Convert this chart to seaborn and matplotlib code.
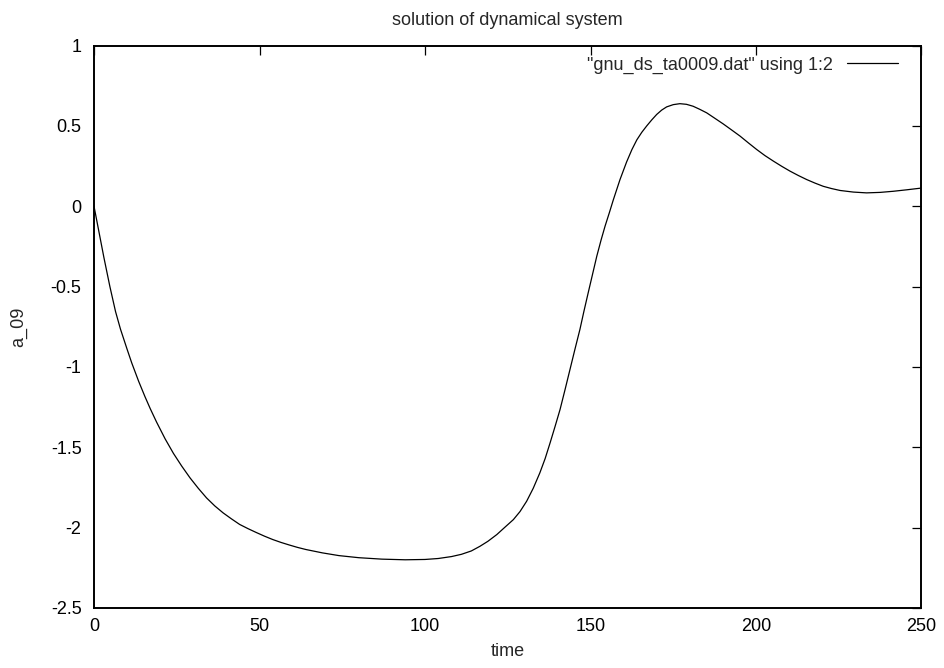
import matplotlib
matplotlib.use("Agg")
import matplotlib.pyplot as plt
import seaborn as sns
import pandas as pd

time = [0, 1.5, 3, 4.8, 6.5, 8, 10, 11.4, 13.5, 15.4, 17, 18.9, 21.5, 24,
        26.5, 29, 31.5, 34, 36.5, 39, 41.5, 44, 46.5, 49, 51.5, 54, 56.5, 59,
        61.5, 64, 69, 74, 80, 87, 94, 100, 104, 108, 111, 114, 116.6, 119,
        121.7, 124, 126.7, 128.7, 130.7, 132.7, 134.7, 136.3, 137.8, 139.3,
        140.8, 142.3, 143.8, 145.3, 146.8, 148, 149.3, 150.6, 151.9, 153.2,
        154.4, 155.7, 156.9, 158.9, 160.9, 162.5, 164, 165.5, 167, 168.5, 170,
        171.5, 173, 175, 177, 179, 181, 183, 185.1, 187.5, 190.1, 192.6,
        195.2, 197.7, 200.2, 202.7, 205.3, 207.8, 210.3, 212.8, 215.3, 217.8,
        220.3, 222.8, 225.4, 229.4, 233.4, 237.5, 241.5, 245.5, 249.6, 250]
a_09 = [0.0, -0.16, -0.32, -0.5, -0.655, -0.765, -0.89, -0.975, -1.09,
        -1.185, -1.26, -1.343, -1.448, -1.538, -1.617, -1.69, -1.755, -1.815,
        -1.865, -1.908, -1.945, -1.98, -2.006, -2.03, -2.053, -2.074, -2.092,
        -2.108, -2.123, -2.136, -2.157, -2.174, -2.187, -2.196, -2.2, -2.198,
        -2.192, -2.18, -2.166, -2.145, -2.116, -2.085, -2.043, -2.0, -1.95,
        -1.9, -1.836, -1.755, -1.659, -1.57, -1.472, -1.37, -1.265, -1.142,
        -1.016, -0.89, -0.767, -0.655, -0.539, -0.425, -0.311, -0.21, -0.124,
        -0.04, 0.04, 0.165, 0.275, 0.352, 0.413, 0.46, 0.5, 0.537, 0.571,
        0.598, 0.618, 0.632, 0.638, 0.634, 0.622, 0.603, 0.581, 0.548, 0.512,
        0.475, 0.436, 0.394, 0.353, 0.315, 0.28, 0.248, 0.218, 0.191, 0.166,
        0.144, 0.124, 0.11, 0.098, 0.088, 0.083, 0.086, 0.093, 0.102, 0.112,
        0.113]
series_label = '"gnu_ds_ta0009.dat" using 1:2'
xticks = [0, 50, 100, 150, 200, 250]
yticks = [-2.5, -2, -1.5, -1, -0.5, 0, 0.5, 1]
ytick_labels = ["-2.5", "-2", "-1.5", "-1", "-0.5", "0", "0.5", "1"]

sns.set_style("white")
plt.rcParams['font.family'] = ['Liberation Sans', 'DejaVu Sans']

df = pd.DataFrame({"time": time, "a_09": a_09})

fig = plt.figure(figsize=(9.44, 6.68), dpi=100)
ax = fig.add_axes([94 / 944, 1 - 608 / 668, (921.5 - 94) / 944, (608 - 45.5) / 668])

sns.lineplot(data=df, x="time", y="a_09", ax=ax, color="black", lw=0.9,
             sort=False, estimator=None, label=series_label)

ax.set_xlim(0, 250)
ax.set_ylim(-2.5, 1)
ax.set_xticks(xticks)
ax.set_xticklabels([str(v) for v in xticks])
ax.set_yticks(yticks)
ax.set_yticklabels(ytick_labels)

for s in ax.spines.values():
    s.set_visible(True)
    s.set_color("black")
    s.set_linewidth(1.4)

ax.tick_params(axis="both", direction="in", length=6.5, width=0.9,
               top=True, right=True, labelsize=13, colors="black")
ax.tick_params(axis="x", pad=7)
ax.tick_params(axis="y", pad=9)

ax.set_title("solution of dynamical system", fontsize=13, pad=15)
ax.set_xlabel("time", fontsize=13, labelpad=6)
ax.set_ylabel("a_09", fontsize=13, labelpad=17)

leg = ax.legend(loc="upper right", bbox_to_anchor=(0.9803, 0.993),
                frameon=False, markerfirst=False, fontsize=13,
                handlelength=2.83, borderaxespad=0.0, handletextpad=0.78)

fig.savefig("out.png", dpi=100, facecolor="white")
